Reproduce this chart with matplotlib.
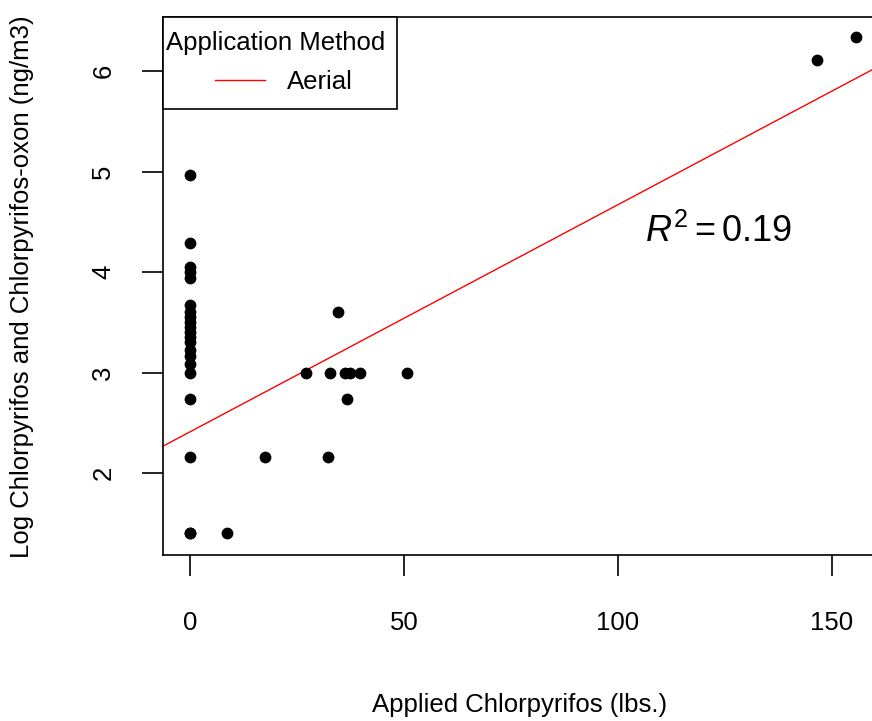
import numpy as np
import matplotlib
matplotlib.use("Agg")
from matplotlib import pyplot as plt
from matplotlib.patches import Rectangle
from matplotlib.lines import Line2D

plt.rcParams['font.family'] = ['Liberation Sans', 'DejaVu Sans']
plt.rcParams['mathtext.fontset'] = 'custom'
plt.rcParams['mathtext.rm'] = 'Liberation Sans'
plt.rcParams['mathtext.it'] = 'Liberation Sans:italic'

# applied chlorpyrifos (lbs.) and log air concentration
applied_lbs = [0, 0, 0, 0, 0, 0, 0, 0, 0, 0, 0, 0, 0, 0, 0, 0, 0, 0, 0, 0, 0,
               8.6, 17.6, 27.1, 32.2, 32.7, 34.6, 36.2, 36.6, 37.4, 39.7, 50.8,
               146.4, 155.6]
log_conc = [4.97, 4.29, 4.05, 4.0, 3.94, 3.67, 3.6, 3.55, 3.5, 3.45, 3.4, 3.35,
            3.3, 3.22, 3.16, 3.09, 3.0, 2.74, 2.16, 1.4, 1.4,
            1.4, 2.16, 3.0, 2.16, 3.0, 3.6, 3.0, 2.74, 3.0, 3.0, 3.0,
            6.11, 6.34]

# fitted line
fit_intercept = 2.41
fit_slope = 0.0226
r2_label = r'$R^2 = 0.19$'

x_ticks = [0, 50, 100, 150]
y_ticks = [2, 3, 4, 5, 6]

W, H = 872, 721
fs = 18.5
fig = plt.figure(figsize=(W / 100, H / 100), dpi=100)

def px(x, y):
    # pixel position (from top-left) -> figure fraction
    return x / W, 1 - y / H

# axes box in pixels (right edge runs off the image like the reference)
left_px, right_px, top_px, bottom_px = 162.6, 884.6, 16.7, 555
ax = fig.add_axes([left_px / W, 1 - bottom_px / H,
                   (right_px - left_px) / W, (bottom_px - top_px) / H])
ax.set_xlim(-6.4, 162.3)
ax.set_ylim(1.185, 6.54)

ax.scatter(applied_lbs, log_conc, s=72, color='black', linewidths=0, zorder=3)

xx = np.array(ax.get_xlim())
ax.plot(xx, fit_intercept + fit_slope * xx, color='red', lw=1.0, zorder=2)

ax.text(123.5, 4.4, r2_label, fontsize=26, ha='center', va='center')

ax.set_xticks(x_ticks)
ax.set_yticks(y_ticks)
ax.tick_params(axis='both', direction='out', length=15, width=1.2,
               labelsize=fs, color='black')
ax.tick_params(axis='x', pad=25)
ax.tick_params(axis='y', pad=19)
for lab in ax.get_yticklabels():
    lab.set_rotation(90)
    lab.set_va('center')
for sp in ax.spines.values():
    sp.set_linewidth(1.2)

fig.text(*px(520, 705), 'Applied Chlorpyrifos (lbs.)',
         fontsize=fs, ha='center', va='center')
fig.text(*px(22, 287), 'Log Chlorpyrifos and Chlorpyrifos-oxon (ng/m3)',
         fontsize=fs, ha='center', va='center', rotation=90)

# legend box, drawn like R's legend()
x0, y0 = px(162.6, 109)
x1, y1 = px(397, 16.7)
fig.add_artist(Rectangle((x0, y0), x1 - x0, y1 - y0, transform=fig.transFigure,
                         facecolor='white', edgecolor='black', lw=1.2, zorder=5))
fig.text(*px(166, 43), 'Application Method', fontsize=fs, ha='left',
         va='center', zorder=6)
lx0, ly = px(215, 80)
lx1, _ = px(265, 80)
fig.add_artist(Line2D([lx0, lx1], [ly, ly], transform=fig.transFigure,
                      color='red', lw=1.0, zorder=6))
fig.text(*px(287, 82), 'Aerial', fontsize=fs, ha='left', va='center', zorder=6)

fig.savefig('out.png', dpi=100)
